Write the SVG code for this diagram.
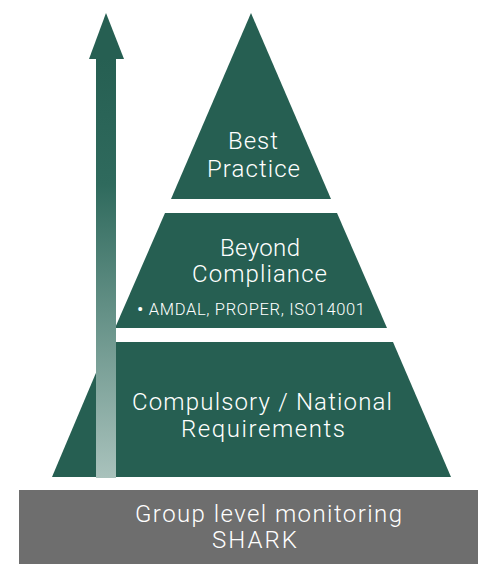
<svg xmlns="http://www.w3.org/2000/svg" width="478" height="564" viewBox="0 0 478 564">
  <style>
    .tier { fill: #265f52; }
    .label { fill: #ffffff; font-family: Roboto, "Liberation Sans", sans-serif; font-weight: 300; text-anchor: middle; }
    .big { font-size: 24px; }
    .small { font-size: 16.5px; }
    .bullet { font-size: 19px; font-weight: 400; }
  </style>
  <defs>
    <linearGradient id="shaftFade" x1="0" y1="0" x2="0" y2="1">
      <stop offset="0" stop-color="#265f52"/>
      <stop offset="0.3" stop-color="#2f6a5d"/>
      <stop offset="1" stop-color="#a9c2bc"/>
    </linearGradient>
  </defs>

  <rect width="478" height="564" fill="#ffffff"/>

  <!-- base bar -->
  <g id="monitoring">
    <rect x="19" y="490" width="459" height="74" fill="#6e6e6e"/>
    <text class="label big" x="268.5" y="522" textLength="267" lengthAdjust="spacing">Group level monitoring</text>
    <text class="label big" x="254.5" y="548" textLength="85" lengthAdjust="spacing">SHARK</text>
  </g>

  <!-- pyramid tiers -->
  <g id="compulsory">
    <polygon class="tier" points="109,342 393,342 451,477 52,477"/>
    <text class="label big" x="262" y="410" textLength="260" lengthAdjust="spacing">Compulsory / National</text>
    <text class="label big" x="263" y="437" textLength="164" lengthAdjust="spacing">Requirements</text>
  </g>

  <g id="beyond">
    <polygon class="tier" points="165,213 337,213 387,328 115,328"/>
    <text class="label big" x="260" y="256" textLength="80" lengthAdjust="spacing">Beyond</text>
    <text class="label big" x="259.5" y="282" textLength="135" lengthAdjust="spacing">Compliance</text>
    <text class="label small" x="251" y="315" textLength="228" lengthAdjust="spacing"><tspan class="bullet" dy="1">•</tspan><tspan dy="-1"> AMDAL, PROPER, ISO14001</tspan></text>
  </g>

  <g id="best">
    <polygon class="tier" points="251,13 331,199 171,199"/>
    <text class="label big" x="253" y="149" textLength="50" lengthAdjust="spacing">Best</text>
    <text class="label big" x="253.5" y="177" textLength="93" lengthAdjust="spacing">Practice</text>
  </g>

  <!-- rising arrow -->
  <g id="connectors">
    <rect x="96" y="58" width="20" height="420" fill="url(#shaftFade)"/>
    <polygon points="106,13 124,59 89,59" fill="#265f52"/>
  </g>
</svg>
